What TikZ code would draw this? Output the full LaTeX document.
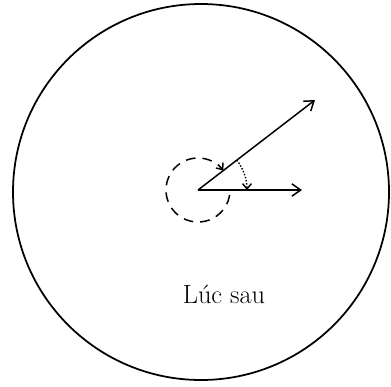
\documentclass[tikz,border=0pt]{standalone}
\usepackage{tikz}
\usetikzlibrary{arrows.meta}
\tikzset{
  vec/.style={line width=0.85pt, -{Straight Barb[length=5pt, width=7pt]}},
  turn/.style={line width=0.85pt, dash pattern=on 5.5pt off 4pt, -{Straight Barb[length=3pt, width=5pt]}},
  sweep/.style={line width=0.8pt, dash pattern=on 0.8pt off 1pt, -{Straight Barb[length=3pt, width=5pt]}},
}
\begin{document}
\begin{tikzpicture}[x=0.02cm, y=0.02cm]
  % ================================================================
  % frame and outer circle
  % ================================================================
  \useasboundingbox (-198,-196) rectangle (193,190);
  \coordinate (O) at (0,0);
  \coordinate (C) at (3,-2);
  \draw[line width=1pt] (C) circle (188);
  % vectors --------------------------------------------------------
  \coordinate (A) at (117,90);
  \coordinate (B) at (104,0);
  \draw[vec] (O) -- (A);
  \draw[vec] (O) -- (B);
  % turning arcs ---------------------------------------------------
  \draw[turn] ([shift={(-9:32)}]O) arc[start angle=-9, end angle=-322.4, radius=32];
  \draw[sweep] ([shift={(37.6:49)}]O) arc[start angle=37.6, end angle=0, radius=49];
  % label ----------------------------------------------------------
  \node[font=\fontsize{15}{17}\selectfont] (lbl) at (26,-104.5) {Lúc sau};
\end{tikzpicture}
\end{document}
